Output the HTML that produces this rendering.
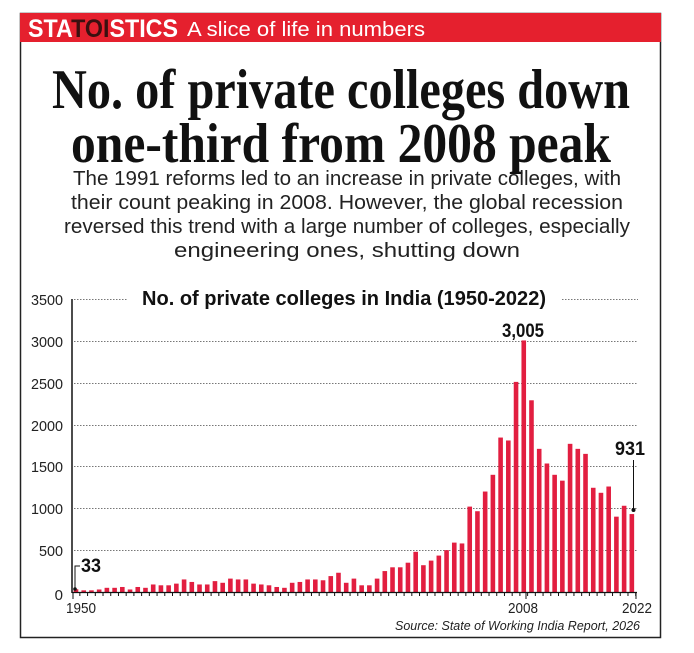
<!DOCTYPE html>
<html><head><meta charset="utf-8"><style>
html,body{margin:0;padding:0;background:#fff;}
svg{display:block;}
</style></head><body>
<svg width="694" height="653" viewBox="0 0 694 653" xmlns="http://www.w3.org/2000/svg">
<rect x="20.5" y="13.5" width="640" height="624" fill="#fff" stroke="#222" stroke-width="1.5"/>
<rect x="20" y="13" width="641" height="29" fill="#e5202e"/>
<text x="28" y="37" font-family="Liberation Sans, sans-serif" font-weight="bold" font-size="25" fill="#fff" textLength="150" lengthAdjust="spacingAndGlyphs">STA<tspan fill="#3a1010">TOI</tspan>STICS</text>
<text x="187" y="36" font-family="Liberation Sans, sans-serif" font-size="20" fill="#fff" textLength="238" lengthAdjust="spacingAndGlyphs">A slice of life in numbers</text>
<text x="341" y="108" text-anchor="middle" font-family="Liberation Serif, serif" font-weight="bold" font-size="56" fill="#111" textLength="578" lengthAdjust="spacingAndGlyphs">No. of private colleges down</text>
<text x="341" y="162" text-anchor="middle" font-family="Liberation Serif, serif" font-weight="bold" font-size="56" fill="#111" textLength="540" lengthAdjust="spacingAndGlyphs">one-third from 2008 peak</text>
<g font-family="Liberation Sans, sans-serif" font-size="20" fill="#222" text-anchor="middle">
<text x="347" y="185" textLength="548" lengthAdjust="spacingAndGlyphs">The 1991 reforms led to an increase in private colleges, with</text>
<text x="347" y="209" textLength="552" lengthAdjust="spacingAndGlyphs">their count peaking in 2008. However, the global recession</text>
<text x="347" y="233" textLength="566" lengthAdjust="spacingAndGlyphs">reversed this trend with a large number of colleges, especially</text>
<text x="347" y="257" textLength="346" lengthAdjust="spacingAndGlyphs">engineering ones, shutting down</text>
</g>
<text x="142" y="305" font-family="Liberation Sans, sans-serif" font-weight="bold" font-size="20" fill="#111" textLength="404" lengthAdjust="spacingAndGlyphs">No. of private colleges in India (1950-2022)</text>
<g stroke="#777" stroke-width="1" stroke-dasharray="1.5,1.5">
<line x1="74" y1="299.5" x2="127" y2="299.5"/><line x1="562" y1="299.5" x2="638" y2="299.5"/>
<line x1="74" y1="341.5" x2="638" y2="341.5"/>
<line x1="74" y1="383.5" x2="638" y2="383.5"/>
<line x1="74" y1="425.5" x2="638" y2="425.5"/>
<line x1="74" y1="466.5" x2="638" y2="466.5"/>
<line x1="74" y1="508.5" x2="638" y2="508.5"/>
<line x1="74" y1="550.5" x2="638" y2="550.5"/>
</g>
<g font-family="Liberation Sans, sans-serif" font-size="15" fill="#222" text-anchor="end">
<text x="63" y="305" textLength="32" lengthAdjust="spacingAndGlyphs">3500</text>
<text x="63" y="347" textLength="32" lengthAdjust="spacingAndGlyphs">3000</text>
<text x="63" y="389" textLength="32" lengthAdjust="spacingAndGlyphs">2500</text>
<text x="63" y="431" textLength="32" lengthAdjust="spacingAndGlyphs">2000</text>
<text x="63" y="472" textLength="32" lengthAdjust="spacingAndGlyphs">1500</text>
<text x="63" y="514" textLength="32" lengthAdjust="spacingAndGlyphs">1000</text>
<text x="63" y="556" textLength="24" lengthAdjust="spacingAndGlyphs">500</text>
<text x="63" y="600">0</text>
</g>
<g id="bars" fill="#e21e40"></g>
<line x1="72" y1="299" x2="72" y2="593" stroke="#111" stroke-width="1.5"/>
<line x1="72" y1="592.5" x2="637" y2="592.5" stroke="#111" stroke-width="1.2"/>
<g id="ticks" stroke="#111" stroke-width="1"></g>
<g font-family="Liberation Sans, sans-serif" font-size="15" fill="#222">
<text x="66" y="613" textLength="30" lengthAdjust="spacingAndGlyphs">1950</text>
<text x="508" y="613" textLength="30" lengthAdjust="spacingAndGlyphs">2008</text>
<text x="622" y="613" textLength="30" lengthAdjust="spacingAndGlyphs">2022</text>
<text x="395" y="630" font-style="italic" font-size="13" textLength="245" lengthAdjust="spacingAndGlyphs">Source: State of Working India Report, 2026</text>
</g>
<g font-family="Liberation Sans, sans-serif" font-weight="bold" font-size="19" fill="#111">
<text x="81" y="572" textLength="20" lengthAdjust="spacingAndGlyphs">33</text>
<text x="502" y="337" textLength="42" lengthAdjust="spacingAndGlyphs">3,005</text>
<text x="615" y="455" textLength="30" lengthAdjust="spacingAndGlyphs">931</text>
</g>
<polyline points="75,589 75,566 80,566" fill="none" stroke="#111" stroke-width="1"/>
<circle cx="75" cy="589" r="1.8" fill="#111"/>
<line x1="633.5" y1="460" x2="633.5" y2="510" stroke="#111" stroke-width="1"/>
<circle cx="633.5" cy="510" r="2" fill="#111"/>
</svg>
<script>
var v=[33,20,20,30,50,50,60,30,60,50,90,80,80,100,150,120,90,90,130,110,160,150,150,100,90,80,60,50,110,120,150,150,140,190,230,
110,160,80,80,160,250,295,295,350,480,320,375,435,500,590,580,1020,965,1200,1400,1845,1810,2510,3005,2290,1710,1535,1400,1330,1770,1710,1650,1245,1185,1260,900,1030,931];
var g=document.getElementById('bars'),t=document.getElementById('ticks'),s='',tk='';
for(var i=0;i<v.length;i++){var c=76+i*7.72,h=v[i]*293/3500;
s+='<rect x="'+(c-2.3).toFixed(2)+'" y="'+(592-h).toFixed(2)+'" width="4.6" height="'+h.toFixed(2)+'"/>';
var x=(c+3.86).toFixed(2);tk+='<line x1="'+x+'" y1="592" x2="'+x+'" y2="596"/>';}
g.innerHTML=s;t.innerHTML=tk+'<line x1="526" y1="592" x2="526" y2="599"/><line x1="73" y1="592" x2="73" y2="599"/><line x1="636" y1="592" x2="636" y2="599"/>';
</script>
</body></html>
